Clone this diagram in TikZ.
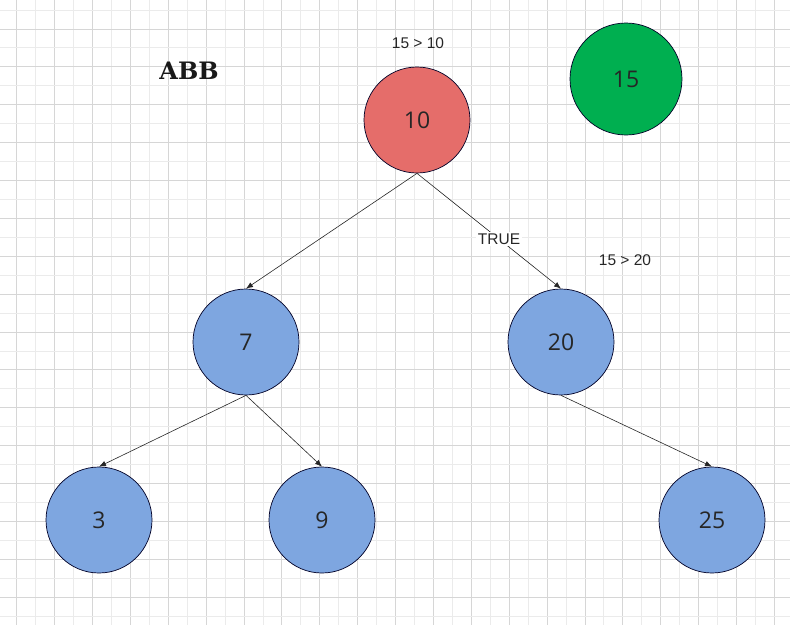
\documentclass[tikz,border=0pt]{standalone}
\usepackage{fontspec}
\setmainfont{Liberation Sans}
\newfontfamily\numfont{Open Sans}
\newfontfamily\slabfont{DejaVu Serif}
\usepackage{tikz}
\usetikzlibrary{shapes}
\usetikzlibrary{arrows.meta}
\tikzset{>={Latex[length=7pt,width=5.5pt]}}
\definecolor{bstred}{HTML}{E56D6A}
\definecolor{bstblue}{HTML}{7EA6E0}
\definecolor{bstgreen}{HTML}{00AF50}
\tikzset{
  bst/.style={circle, draw=black!85!blue, line width=0.7pt, minimum size=106pt, inner sep=0pt, font=\numfont\fontsize{23}{27}\selectfont, text=black!85},
  cmp/.style={font=\fontsize{15.5}{18}\selectfont, text=black!85},
  edge/.style={->, line width=0.6pt, black!85}
}

\begin{document}
\begin{tikzpicture}[x=1pt, y=-1pt]
      \useasboundingbox (0,0) rectangle (790,625);
      % grid
      \foreach \i in {0,...,40} {
        \pgfmathsetmacro{\gx}{16.7+18.94*\i}
        \ifodd\i \def\gc{black!8}\else \def\gc{black!16}\fi
        \draw[\gc, line width=0.8pt] (\gx,0) -- (\gx,625);
      }
      \foreach \i in {0,...,32} {
        \pgfmathsetmacro{\gy}{10+18.94*\i}
        \ifodd\i \def\gc{black!16}\else \def\gc{black!8}\fi
        \draw[\gc, line width=0.8pt] (0,\gy) -- (790,\gy);
      }

	  \node (title) at (189,71) [font=\slabfont\bfseries\fontsize{24}{28}\selectfont, text=black!90] {ABB};
	  \node (cmpA) at (418,43) [cmp] {15 > 10};
	  \node (cmpB) at (625,260) [cmp] {15 > 20};

      \node (n10) at (417,120) [bst, fill=bstred] {10};
      \node (n15) at (626,79) [bst, fill=bstgreen, minimum size=112pt] {15};
      \node (n7) at (246,342) [bst, fill=bstblue] {7};
      \node (n20) at (561,342) [bst, fill=bstblue] {20};
      \node (n3) at (99,520) [bst, fill=bstblue] {3};
      \node (n9) at (322,520) [bst, fill=bstblue] {9};
      \node (n25) at (712,520) [bst, fill=bstblue] {25};

      \draw[edge] (n10.south) -- (n7.north);
      \draw[edge] (n10.south) -- node [pos=0.57, fill=white, inner sep=1.5pt, cmp] (true) {TRUE} (n20.north);
      \draw[edge] (n7.south) -- (n3.north);
      \draw[edge] (n7.south) -- (n9.north);
      \draw[edge] (n20.south) -- (n25.north);
    \end{tikzpicture}
\end{document}
